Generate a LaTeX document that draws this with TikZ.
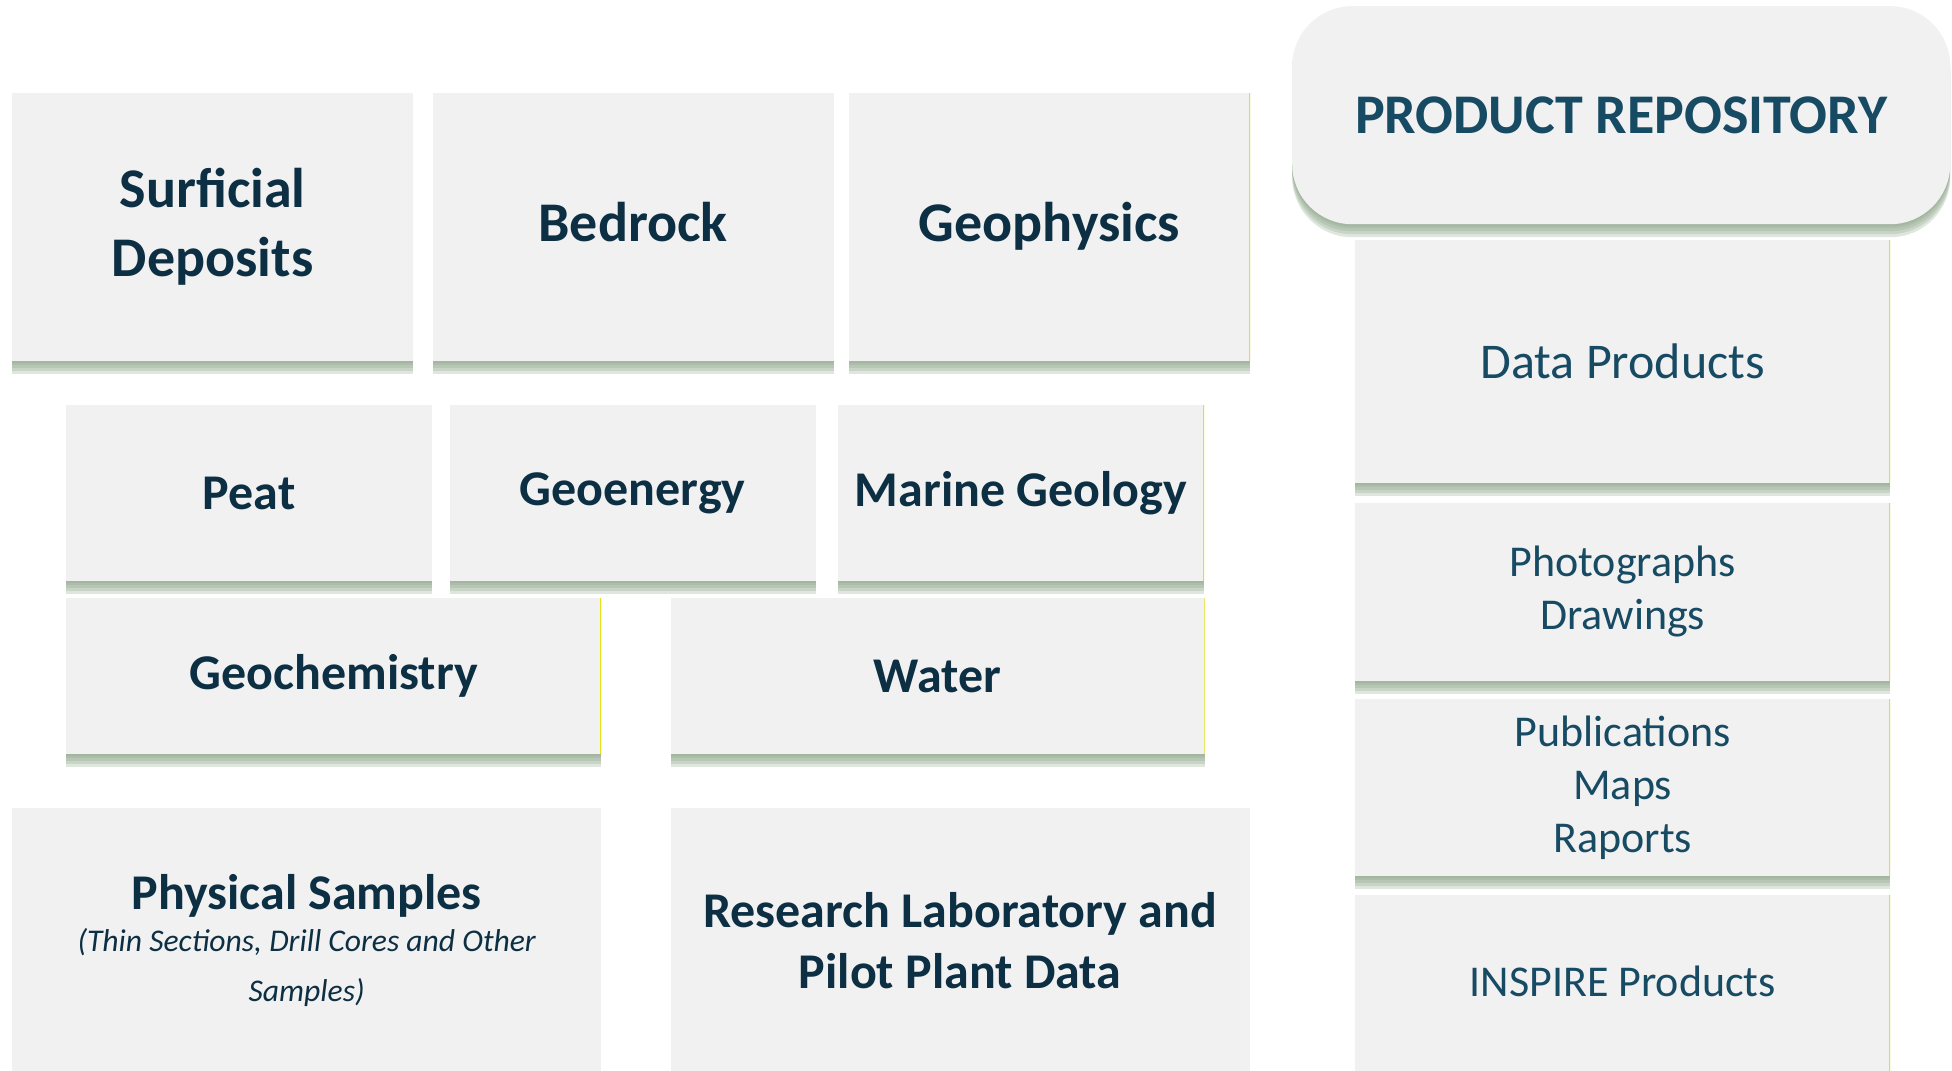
\documentclass[tikz,border=0pt]{standalone}
\usepackage{fontspec}
\setmainfont{Carlito}
\usetikzlibrary{positioning,shadows}

\definecolor{tilefill}{HTML}{F1F1F1}
\definecolor{inkdark}{HTML}{0D2F43}
\definecolor{inkblue}{HTML}{174A63}
\definecolor{shadegreen}{HTML}{8FA88B}
\definecolor{edgeyellow}{HTML}{E3E31A}

\tikzset{
  softshade/.style={drop shadow={shadow xshift=0pt,shadow yshift=#1,fill=shadegreen,opacity=.28}},
  tile/.style={fill=tilefill,draw=none,inner sep=0pt,align=center,text=inkdark,
    softshade=-2pt,softshade=-4pt,softshade=-7pt,softshade=-10pt,softshade=-13pt},
  bigfont/.style={font=\fontsize{56}{69}\selectfont\bfseries},
  midfont/.style={font=\fontsize{50}{61}\selectfont\bfseries},
  prodfont/.style={font=\fontsize{44}{53}\selectfont,text=inkblue},
  yedge/.style={path picture={\draw[edgeyellow,line width=2pt]
    (path picture bounding box.north east) -- (path picture bounding box.south east);}},
}

\begin{document}
\begin{tikzpicture}[x=1pt,y=1pt]
\useasboundingbox[fill=white] (0,0) rectangle (1952,-1071);

% first row
\node[tile,bigfont,minimum width=401pt,minimum height=268pt,anchor=north west] (surf) at (12,-93) {Surficial\\Deposits};
\node[tile,bigfont,minimum width=401pt,minimum height=268pt,right=19pt of surf] (bed) {\strut Bedrock};
\node[tile,bigfont,yedge,minimum width=401pt,minimum height=268pt,right=15pt of bed] (geoph) {\strut Geophysics};

% second row
\node[tile,midfont,minimum width=366pt,minimum height=176pt,anchor=north west] (peat) at (66,-405) {Peat};
\node[tile,midfont,minimum width=366pt,minimum height=176pt,right=17pt of peat] (geoen) {Geoenergy};
\node[tile,midfont,yedge,minimum width=366pt,minimum height=176pt,right=22pt of geoen] (marine) {Marine Geology};

% third row
\node[tile,midfont,yedge,minimum width=535pt,minimum height=156pt,anchor=north west] (geochem) at (66,-598) {Geochemistry};
\node[tile,midfont,yedge,minimum width=534pt,minimum height=156pt,right=69pt of geochem] (water) {Water};

% fourth row
\node[tile,midfont,minimum width=589pt,minimum height=265pt,anchor=north west] (phys) at (12,-808)
  {Physical Samples\\[-19pt]
   {\mdseries\itshape\fontsize{31.6}{50}\selectfont (Thin Sections, Drill Cores and Other}\\[-11pt]
   {\mdseries\itshape\fontsize{31.6}{50}\selectfont Samples)}};
\node[tile,midfont,minimum width=579pt,minimum height=265pt,right=69pt of phys] (lab) {Research Laboratory and\\Pilot Plant Data};

% repository column
\node[tile,bigfont,text=inkblue,rounded corners=60pt,minimum width=658pt,minimum height=218pt,anchor=north west] (repo) at (1292,-6) {PRODUCT REPOSITORY};
\node[tile,yedge,font=\fontsize{50}{61}\selectfont,text=inkblue,minimum width=535pt,minimum height=243pt,anchor=north west] (datap) at (1355,-240) {Data Products};
\node[tile,prodfont,yedge,minimum width=535pt,minimum height=178pt,below=19pt of datap] (photo) {Photographs\\Drawings};
\node[tile,prodfont,yedge,minimum width=535pt,minimum height=177pt,below=18pt of photo] (publ) {Publications\\Maps\\Raports};
\node[tile,prodfont,yedge,minimum width=535pt,minimum height=180pt,below=19pt of publ] (insp) {\strut INSPIRE Products};
\end{tikzpicture}
\end{document}
